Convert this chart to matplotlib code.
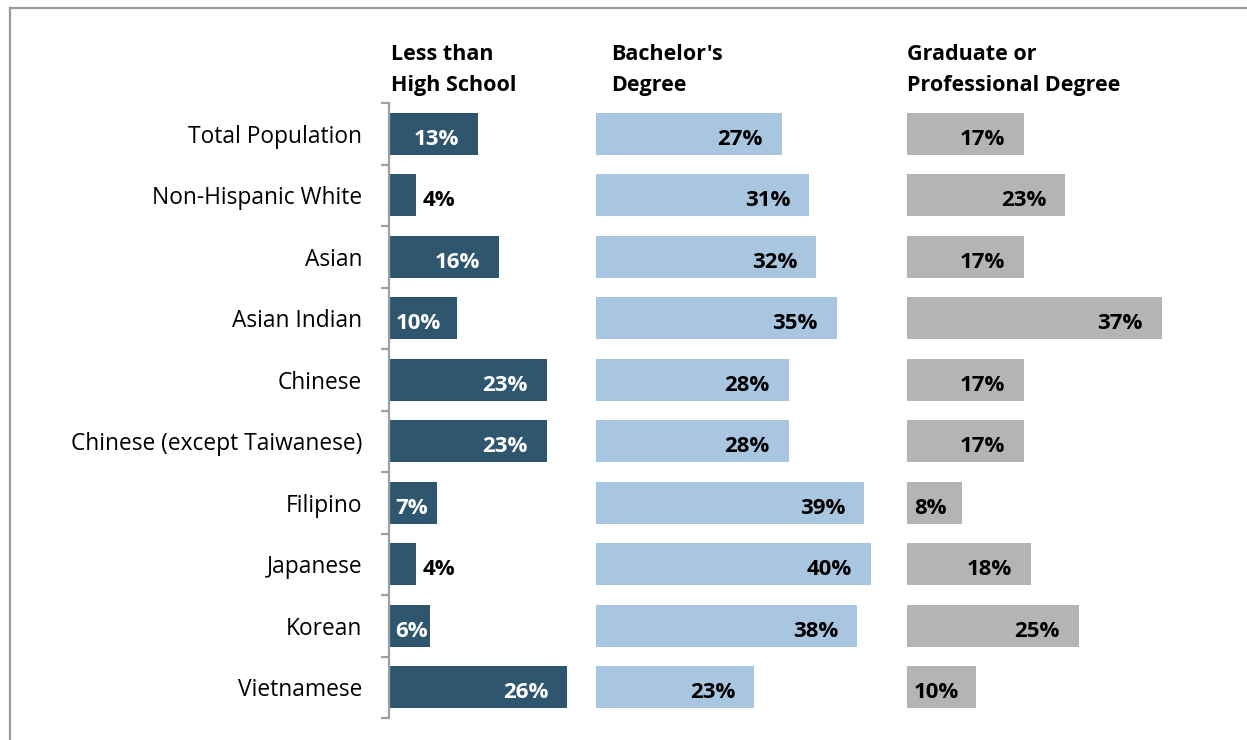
import matplotlib
matplotlib.use("Agg")

import matplotlib.pyplot as plt
from matplotlib.lines import Line2D
from matplotlib.ticker import FixedLocator

categories = [
    "Total Population",
    "Non-Hispanic White",
    "Asian",
    "Asian Indian",
    "Chinese",
    "Chinese (except Taiwanese)",
    "Filipino",
    "Japanese",
    "Korean",
    "Vietnamese",
]
less_than_high_school = [13, 4, 16, 10, 23, 23, 7, 4, 6, 26]
bachelors_degree = [27, 31, 32, 35, 28, 28, 39, 40, 38, 23]
graduate_degree = [17, 23, 17, 37, 17, 17, 8, 18, 25, 10]

panel_titles = [
    ["Less than", "High School"],
    ["Bachelor's", "Degree"],
    ["Graduate or", "Professional Degree"],
]

FONT = "Open Sans"
DARK = "#2E566E"
LIGHT = "#A9C6E0"
GREY = "#B4B4B4"
FRAME = "#9A9A9A"

W, H = 1247, 740
PX_PER_PCT = 6.88
ROW_TOP, ROW_BOTTOM = 103, 718

plt.rcParams["font.family"] = [FONT, "DejaVu Sans"]

figure = plt.figure(figsize=(W / 100, H / 100), dpi=100)

# panel left edge in px, x range in percent, bar colour, label colour, title shift
panels = [
    (388.5, 30, less_than_high_school, DARK, "white", 0.3),
    (596.0, 45, bachelors_degree, LIGHT, "black", 2.2),
    (907.0, 49, graduate_degree, GREY, "black", 0.0),
]

for index, (left_px, x_max, values, bar_color, label_color, title_dx) in enumerate(panels):
    axes = figure.add_axes([
        left_px / W,
        1 - ROW_BOTTOM / H,
        x_max * PX_PER_PCT / W,
        (ROW_BOTTOM - ROW_TOP) / H,
    ])
    positions = list(range(len(categories)))
    axes.barh(positions, values, height=0.68, color=bar_color, edgecolor="none")
    axes.set_xlim(0, x_max)
    axes.set_ylim(len(categories) - 0.5, -0.5)
    axes.set_xticks([])
    for side in ["top", "right", "bottom"]:
        axes.spines[side].set_visible(False)

    for position, value in zip(positions, values):
        if index == 0 and value < 5:
            # too short: label sits just past the bar end
            anchor_x, dx, ha, color = value, 7, "left", "black"
        elif value <= 10:
            anchor_x, dx, ha, color = 0, 7, "left", label_color
        else:
            anchor_x, dx, ha, color = value, -19, "right", label_color
        axes.annotate(
            f"{value}%",
            xy=(anchor_x, position),
            xytext=(dx, -11),
            textcoords="offset pixels",
            ha=ha,
            va="baseline",
            fontsize=16,
            fontweight="bold",
            color=color,
        )

    for line_index, line in enumerate(panel_titles[index]):
        axes.annotate(
            line,
            xy=(title_dx, -0.5),
            xytext=(0, 43 - 31 * line_index),
            textcoords="offset pixels",
            ha="left",
            va="baseline",
            fontsize=15.5,
            fontweight="bold",
            color="black",
        )

    if index == 0:
        axes.spines["left"].set_color("#A0A0A0")
        axes.spines["left"].set_linewidth(1.6)
        boundaries = [p - 0.5 for p in positions] + [len(categories) - 0.5]
        axes.yaxis.set_major_locator(FixedLocator(boundaries))
        axes.yaxis.set_minor_locator(FixedLocator(positions))
        axes.set_yticklabels([], minor=False)
        axes.set_yticklabels(categories, minor=True, fontsize=16.4)
        axes.tick_params(axis="y", which="major", direction="out", length=5.8,
                         width=1.6, color="#A0A0A0")
        axes.tick_params(axis="y", which="minor", length=0, pad=19)
    else:
        axes.spines["left"].set_visible(False)
        axes.set_yticks([])

# outer frame (top and left edges)
figure.add_artist(Line2D([9.5 / W, 1], [1 - 8 / H, 1 - 8 / H], color=FRAME, linewidth=1.6))
figure.add_artist(Line2D([10 / W, 10 / W], [0, 1 - 8 / H], color=FRAME, linewidth=1.6))

figure.savefig("out.png", dpi=100)
